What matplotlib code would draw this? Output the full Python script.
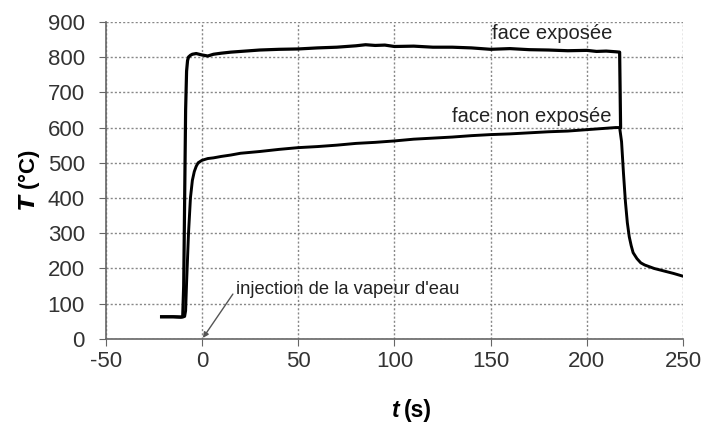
import matplotlib
matplotlib.use("Agg")
import matplotlib.pyplot as plt

# Exposed face (face exposée)
t_exp = [-21, -15, -11, -10, -9.5, -9, -8.5, -8, -7.5, -7, -6, -5, -3, 0, 3, 6, 10, 15, 20,
         25, 30, 40, 50, 60, 70, 80, 85, 90, 95, 100, 110, 120, 130, 140, 150, 160, 170,
         180, 190, 200, 205, 210, 215, 217, 217.5]
T_exp = [63, 63, 62, 64, 150, 400, 650, 760, 790, 800, 805, 808, 810, 806, 803, 808, 811, 814, 816,
         818, 820, 822, 823, 826, 828, 832, 835, 833, 834, 830, 831, 828, 828, 826, 822, 824, 821,
         820, 818, 819, 816, 817, 815, 814, 600]

# Unexposed face (face non exposée)
t_non = [-21, -15, -10, -9, -8.5, -8, -7, -6, -5, -4, -3, -2, 0, 3, 6, 10, 15, 20, 30, 40, 50,
         60, 70, 80, 90, 100, 110, 120, 130, 140, 150, 160, 170, 180, 190, 200, 210, 215, 217,
         218, 219, 220, 221, 222, 223, 224, 226, 228, 230, 235, 240, 245, 250]
T_non = [63, 63, 62, 64, 80, 160, 300, 400, 450, 475, 490, 500, 507, 512, 514, 518, 522, 527, 532, 538, 543,
         546, 550, 555, 558, 562, 567, 570, 573, 577, 580, 582, 585, 588, 590, 594, 598, 600, 600,
         560, 470, 390, 330, 290, 265, 245, 228, 216, 210, 200, 193, 186, 178]

x_ticks = [-50, 0, 50, 100, 150, 200, 250]
y_ticks = [0, 100, 200, 300, 400, 500, 600, 700, 800, 900]

plt.rcParams['font.family'] = ['Liberation Sans', 'DejaVu Sans']
plt.rcParams['axes.unicode_minus'] = False

fig = plt.figure(figsize=(7.05, 4.28), dpi=100)
ax = fig.add_axes([0.150, 0.208, 0.819, 0.741])

ax.plot(t_exp, T_exp, color='black', lw=2.3)
ax.plot(t_non, T_non, color='black', lw=2.1)

ax.set_xlim(-50, 250)
ax.set_ylim(0, 900)
ax.set_xticks(x_ticks)
ax.set_yticks(y_ticks)
ax.tick_params(labelsize=16, colors='#333333', length=5, direction='out', color='#666666')
ax.tick_params(axis='y', pad=10)
ax.tick_params(axis='x', pad=4)
ax.grid(True, linestyle=(0, (1.5, 1.5)), color='#888888', lw=1.0)
for s in ['top', 'right']:
    ax.spines[s].set_visible(False)
for s in ['left', 'bottom']:
    ax.spines[s].set_color('#666666')
    ax.spines[s].set_linewidth(1.2)

ax.set_ylabel(r'$\boldsymbol{T}$ (°C)', fontsize=16, fontweight='bold', labelpad=4)
fig.text(0.565, 0.042, 't', fontsize=16.5, fontweight='bold', style='italic', ha='right', va='center')
fig.text(0.573, 0.042, '(s)', fontsize=16.5, fontweight='bold', ha='left', va='center')

ax.annotate("injection de la vapeur d'eau", xy=(0.5, 3), xytext=(17.5, 139),
            fontsize=13.2, color='#222222', va='center', ha='left',
            arrowprops=dict(arrowstyle='-|>', color='#555555', lw=1.0, mutation_scale=8,
                            shrinkA=0, shrinkB=0, relpos=(0, 0.5)))
ax.text(150.5, 866, 'face exposée', fontsize=14.5, color='#222222', va='center', ha='left')
ax.text(130, 630, 'face non exposée', fontsize=14.5, color='#222222', va='center', ha='left')

fig.savefig('out.png', dpi=100)
